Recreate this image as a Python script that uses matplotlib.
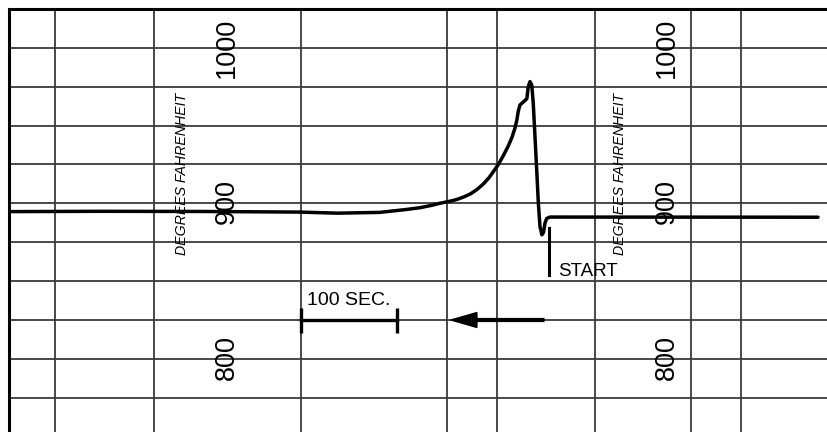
import matplotlib
matplotlib.use("Agg")
import matplotlib.pyplot as plt

# chart record: time in seconds (from left edge), temperature in deg F
time_s = [0, 95, 199, 303, 342, 386, 413, 428, 440, 449, 458, 466, 474, 481,
          488, 494, 500, 505, 510, 515, 520, 524, 527, 529, 530.5, 532.3, 535.7,
          539.4, 540.9, 542.7, 544.5, 546.1, 547.9, 549.7, 551.4, 553.1, 555.1,
          556.8, 558.3, 560.1, 563.5, 842.7]
temp_f = [894.7, 894.9, 894.8, 894.4, 893.7, 894.2, 896.0, 897.2, 898.7, 900.1,
          901.2, 902.4, 904.2, 906.2, 909.2, 912.4, 916.5, 920.8, 925.3, 930.8,
          936.8, 942.6, 948.3, 953.5, 959.3, 963.3, 965.2, 967.3, 975.1, 978.3,
          976.2, 964.4, 942.9, 921.5, 900.1, 885.1, 879.8, 881.3, 887.3, 890.3,
          891.2, 891.1]

x_grid = [48, 151, 304, 456, 508, 610, 710, 762]
y_grid = [775, 800, 825, 850, 875, 900, 925, 950, 975, 1000]

temp_labels = ["1000", "900", "800"]
temp_label_y = [1000, 901, 801]
label_cols = [227, 685]
axis_title = "DEGREES FAHRENHEIT"
axis_title_x = [180.5, 636.5]

start_t = 562.5
start_mark = [884, 854]
scale_bar = [304.2, 404.2]
scale_y = 825
arrow_from, arrow_to = 557.3, 460.4

font = ["Liberation Sans", "DejaVu Sans"]

fig = plt.figure(figsize=(8.28, 4.32), dpi=100)
ax = fig.add_axes([9 / 828, 0, 819 / 828, 423 / 432])
ax.set_xlim(0, 819 / 0.96)
ax.set_ylim(1025 - 423 / 1.555, 1025)
for s in ["bottom", "right"]:
    ax.spines[s].set_visible(False)
for s in ["left", "top"]:
    ax.spines[s].set_linewidth(2.2)
ax.set_xticks(x_grid)
ax.set_yticks(y_grid)
ax.tick_params(length=0, labelbottom=False, labelleft=False)
ax.grid(True, color="#3a3a3a", lw=1.3)
ax.set_axisbelow(True)

ax.plot(time_s, temp_f, color="black", lw=2.5, solid_joinstyle="round",
        solid_capstyle="round", zorder=3)

for cx in label_cols:
    for lab, ty in zip(temp_labels, temp_label_y):
        ax.text(cx, ty, lab, rotation=90, ha="center", va="center",
                fontsize=19.5, family=font, zorder=4)
for cx in axis_title_x:
    ax.text(cx, 919, axis_title, rotation=90, ha="center", va="center",
            fontsize=10.2, style="italic", family=font, zorder=4)

# start mark
ax.plot([start_t, start_t], start_mark, color="black", lw=2.2, zorder=3)
ax.text(start_t + 10, 853.4, "START", fontsize=13.5, family=font,
        va="baseline", ha="left", zorder=4)

# 100 second scale bar
ax.plot(scale_bar, [scale_y, scale_y], color="black", lw=2.4, marker="|",
        markersize=18, mew=2.4, zorder=3)
ax.text(scale_bar[0] + 6.5, 834.7, "100 SEC.", fontsize=14, family=font,
        va="baseline", ha="left", zorder=4)

# direction arrow
ax.arrow(arrow_from, scale_y, arrow_to - arrow_from, 0, width=1.8,
         head_width=9.6, head_length=27, length_includes_head=True,
         color="black", zorder=3)

fig.savefig("out.png", dpi=100)
